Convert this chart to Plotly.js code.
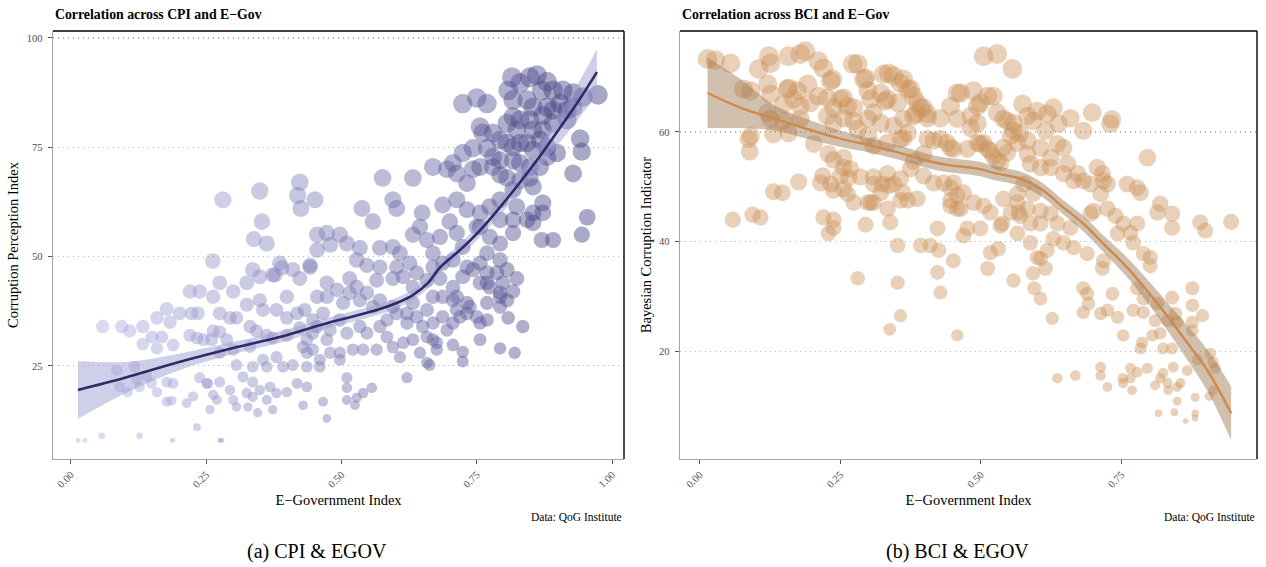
<!DOCTYPE html>
<html><head><meta charset="utf-8">
<script src="https://cdn.plot.ly/plotly-3.0.1.min.js"></script>
<style>html,body{margin:0;padding:0;background:#fff}#chart{width:1266px;height:567px}</style>
</head><body><div id="chart"></div>
<script>
// ---------- Panel (a): CPI vs E-Government ----------
const cpiEgov = [
.013,.026,.057,.127,.188,.275,.279,.233,.281,.349,
.353,.338,.362,.423,.419,.451,.425,.262,.085,.118,
.14,.122,.09,.105,.127,.149,.159,.177,.189,.186,
.177,.214,.226,.238,.251,.263,.257,.059,.094,.109,
.133,.133,.159,.15,.168,.189,.159,.177,.183,.201,
.22,.238,.223,.235,.233,.245,.22,.263,.275,.3,
.275,.294,.306,.263,.275,.26,.288,.275,.3,.306,
.325,.349,.336,.373,.39,.41,.423,.442,.325,.349,
.355,.38,.399,.418,.399,.331,.343,.362,.373,.399,
.423,.447,.436,.331,.355,.38,.336,.362,.392,.41,
.436,.46,.318,.336,.349,.368,.325,.336,.362,.38,
.399,.418,.436,.345,.373,.327,.306,.3,.27,.429,
.466,.473,.294,.275,.253,.538,.558,.576,.632,.595,
.602,.649,.669,.695,.713,.732,.743,.78,.793,.713,
.687,.7,.732,.756,.774,.793,.793,.645,.632,.658,
.669,.682,.713,.724,.756,.774,.793,.769,.793,.756,
.732,.706,.687,.669,.455,.473,.497,.479,.51,.534,
.571,.595,.608,.455,.528,.547,.571,.602,.626,.639,
.614,.595,.632,.658,.682,.706,.724,.743,.769,.787,
.756,.774,.798,.806,.793,.769,.732,.713,.713,.687,
.669,.658,.632,.621,.595,.571,.558,.534,.547,.515,
.503,.473,.455,.473,.492,.515,.565,.528,.442,.386,
.377,.432,.466,.455,.479,.497,.51,.534,.547,.571,
.584,.602,.621,.639,.65,.669,.687,.706,.719,.737,
.756,.669,.658,.632,.614,.595,.584,.565,.54,.521,
.497,.479,.447,.429,.473,.447,.608,.645,.676,.658,
.706,.724,.724,.756,.793,.793,.621,.51,.51,.497,
.46,.436,.528,.54,.556,.525,.51,.824,.817,.808,
.835,.82,.706,.769,.793,.806,.676,.695,.663,.769,
.75,.732,.724,.75,.769,.815,.808,.83,.848,.861,
.88,.87,.891,.909,.928,.946,.974,.817,.843,.854,
.88,.891,.872,.904,.917,.928,.817,.83,.848,.806,
.824,.854,.872,.891,.917,.756,.761,.78,.793,.806,
.817,.83,.843,.854,.867,.88,.898,.941,.944,.928,
.817,.83,.848,.867,.88,.793,.78,.769,.743,.724,
.756,.706,.806,.83,.848,.854,.817,.872,.854,.824,
.843,.817,.854,.872,.954,.944,.891,.817,.75,.87
];
const cpiScore = [
8,8,9,9,8,8,8,11,63,65,
58,54,53,67,64,63,61,49,24,24.8,
22.7,21.8,20.2,19,20.2,21,19,21.3,21,17,
16.8,16.5,18,22.3,21,18.4,15,34,34,33,
34,30,29,31.6,31.6,29.8,36,38,35,37,
42,42,37,37,31.4,31,32,40.8,44,42,
37,36,36,33,32.8,31,31,28,28.7,25.2,
44,45.4,47,45.8,47.4,47,45,48,39,40,
37.8,37.8,36,37,40.8,34,33,32,31.4,32,
33.7,35.5,31,29.4,26.4,27,24.8,24.8,24.8,25.2,
24.8,24.8,22.5,21.3,19.5,20.2,18.8,17.9,17.2,18.8,
19,21,20.2,14.3,15,15.6,15.6,17.2,17.2,16,
16.8,13,19.5,21.3,21,61,58,68,68,63,
61,60,70.5,70,69,66.8,70,70.5,68.7,63,
61.8,58,60.7,60,61.4,63,58.4,56.8,55,53.8,
50.8,54.5,55.4,52.2,56.8,54.5,53,50.8,49.2,48.5,
47.6,49.2,48.5,47.6,55,55.4,55,52.7,53,52,
52,52.2,50.8,51.5,49.2,48,47.6,47.6,48.5,46.3,
45.4,45,43,44.6,45,43,45.4,47,46.3,46.3,
44,43,44,47,40.8,39.4,39.4,40.8,37.8,40.8,
40.8,37.8,39.4,37,38.5,40,38.5,40,41.7,41.7,
39.4,40.8,40.8,44,42.4,45,44.6,43,47.6,48.5,
45.8,37.8,37,34,33.2,35.5,32.5,34,32.5,34,
35.5,37,34.8,36.2,34,34.8,36.2,34.8,36.2,38.5,
34.8,31,31.6,31,30.3,29.3,31.6,28.7,28.7,28.7,
28,28,28.7,29.3,31,32.5,27,28,28.7,25.7,
29.8,28.2,26,31,29,38.5,22.3,22.3,20,26.4,
26.4,28,17.7,18.8,20,16,17.2,45,42,36,
34,28,40,44,41.7,40,30.3,33.2,25.2,35.5,
36.2,37,85,86.3,85,91,88,89.7,91,91.5,
90,88,88,88,87.4,86.5,87,85.8,85.8,84.2,
84.2,83.5,82.3,85,83.5,84.2,82,81.3,81.3,80.5,
79,79,79,80.5,81.3,79.7,78.3,78.3,76.7,76,
75,76,76,74.4,76.7,75,73.7,77,74,69,
72,71.4,70.5,70.5,72.8,72,72.8,74.8,74.8,73.7,
70.5,71.4,68,67.5,68,66,65.3,62.3,60,61.4,
58.4,58.4,57.7,60,59,55,53.8,55.4,56.8,53.8
];
// smoothed fit
const cpiFitX  = [0.013,0.1,0.2,0.3,0.386,0.479,0.552,0.602,0.632,0.66,0.682,0.719,0.756,0.793,0.83,0.867,0.904,0.94,0.972];
const cpiFitY  = [19.5,22.3,25.9,29.1,31.6,35.0,37.3,39.4,41.2,44.0,47.5,51.5,56.0,61.3,67.0,73.0,79.5,86.0,92.2];
const cpiFitHi = [26.1,25.9,27.8,30.5,32.9,36.2,38.5,40.6,42.4,45.3,48.8,52.9,57.6,63.1,69.2,75.7,82.8,90.2,97.4];
const cpiFitLo = [12.9,18.7,24.0,27.7,30.3,33.8,36.1,38.2,40.0,42.7,46.2,50.1,54.4,59.5,64.8,70.3,76.2,81.8,87.0];

// ---------- Panel (b): BCI vs E-Government ----------
const bciEgov = [
.014,.028,.055,.078,.087,.089,.059,.094,.108,.131,
.147,.105,.123,.126,.121,.126,.158,.179,.188,.158,
.174,.192,.211,.22,.233,.176,.219,.233,.238,.22,
.238,.229,.238,.203,.229,.238,.256,.256,.265,.263,
.274,.295,.304,.309,.325,.336,.345,.37,.387,.334,
.339,.352,.393,.41,.423,.425,.451,.272,.281,.256,
.295,.327,.336,.362,.375,.304,.33,.352,.387,.398,
.384,.405,.428,.446,.458,.416,.428,.446,.398,.38,
.362,.398,.375,.434,.446,.458,.446,.091,.236,.156,
.167,.179,.197,.149,.121,.126,.149,.179,.091,.131,
.158,.211,.227,.238,.25,.263,.274,.256,.274,.227,
.238,.281,.299,.299,.309,.292,.299,.322,.345,.357,
.37,.334,.38,.393,.38,.405,.362,.322,.345,.37,
.357,.334,.309,.405,.44,.451,.476,.494,.505,.512,
.522,.535,.547,.565,.57,.558,.54,.553,.494,.512,
.529,.482,.494,.464,.487,.522,.505,.529,.556,.574,
.583,.334,.357,.362,.322,.309,.299,.256,.215,.25,
.268,.286,.309,.357,.416,.451,.458,.469,.446,.464,
.487,.505,.517,.54,.553,.565,.57,.583,.535,.565,
.517,.531,.512,.558,.476,.469,.499,.423,.428,.281,
.352,.357,.499,.458,.482,.547,.558,.6,.618,.629,
.593,.615,.638,.659,.682,.698,.73,.733,.796,.499,
.517,.54,.583,.583,.529,.606,.636,.647,.624,.654,
.588,.606,.624,.647,.672,.665,.682,.707,.716,.718,
.713,.695,.725,.76,.778,.784,.819,.814,.84,.84,
.89,.899,.945,.565,.576,.593,.567,.538,.588,.606,
.624,.606,.636,.659,.629,.647,.665,.689,.618,.606,
.588,.695,.7,.725,.739,.753,.778,.766,.743,.771,
.789,.801,.718,.458,.6,.615,.593,.595,.606,.627,
.716,.682,.689,.691,.682,.713,.725,.734,.743,.753,
.771,.789,.801,.778,.789,.814,.81,.805,.819,.787,
.784,.824,.84,.84,.846,.832,.849,.876,.876,.894,
.876,.876,.908,.913,.917,.867,.885,.842,.824,.819,
.832,.855,.849,.833,.81,.796,.778,.766,.766,.752,
.753,.769,.725,.713,.713,.668,.636,.881,.881,.881,
.864,.844,.816,.849,.906,.913,.338
];
const bciScore = [
73.3,73.1,72.5,67.8,58.7,56.4,44,44.9,44.4,49.1,
48.9,71.5,73.8,72.5,68.7,66.9,73.8,74.2,74.7,68,
67.5,68.7,72.9,71.6,69.3,50.9,52,50.5,49.3,44.4,
44,41.5,42.5,57.8,56,54.9,53.5,55.3,51.6,48.7,
47.1,43.1,47.1,50.5,50.5,50.2,50.5,47.5,47.8,46,
43.5,39.3,39.3,39.3,42.4,38.4,36.5,72.4,72.4,66.2,
69.8,70.5,70.7,69.6,67.8,66,65.6,65.3,65.3,64.4,
63.3,62.5,62.5,64.7,67.1,58.4,58.7,57.1,56,54.7,
58.9,52,53.3,50.7,49.8,46,47.5,67.5,69.6,67.8,
66,64.7,65.3,65.1,63.5,62.4,62,62.4,59.3,59.6,
59.8,66.5,66.2,64.4,66,64.7,64.4,62.5,62,62.9,
61.6,60.5,59.3,62.4,63.5,69.6,67.5,67.1,70.2,68.9,
67.8,66,66.5,64.4,62.9,63.3,62.4,61.6,61.1,59.8,
58.7,58,57.5,58.7,58,56.9,56.9,58,58,56.9,
55.6,54.4,56.2,58,59.8,61.6,62.4,59.3,64.7,66.5,
63.5,62.9,61.6,67.1,67.5,66.5,73.8,74.2,71.5,65.1,
62.9,52.4,51.5,48.9,48.9,47.1,47.1,49.6,50.7,52,
53.3,51.8,51.8,47.5,50.7,50.7,48.4,48.9,46.5,46,
47.1,46.5,45.3,47.8,45.3,47.1,44.7,46,42.9,41.5,
38,38.7,35.1,32.9,42.4,41.1,42.4,34.4,30.7,33.3,
32.5,26.5,65.3,62.4,60.7,62,60.2,63.8,63.3,64.4,
62,60.2,61.5,62.5,60.2,63.5,61.5,62.3,55.3,57.8,
56.5,57.1,58.4,56,54.7,57.1,57.8,57.1,55.3,54.2,
54.2,53.5,53.5,52.4,52.4,51.1,51.1,53.5,52.4,51.1,
48.7,50.5,50.5,50.5,49.8,48.9,46.9,45.3,45.1,42.5,
43.5,42,43.6,48.7,50.5,48.7,45.3,43.3,43.3,45.6,
45.1,43.3,43.3,42.5,40.5,39.8,38.9,37.8,38.4,36.9,
39.8,45.1,45.6,46,44.7,43.3,43.3,41.6,41.5,39.8,
37.8,37.1,36.5,22.9,37.1,35.1,34.2,31.5,29.6,26,
35.1,31.5,30.5,28.7,27.1,26.9,27.5,30.5,26.2,22.9,
27.5,27.1,35.6,31.5,29.6,28.7,25.6,22.9,23.3,21.6,
20.5,20.5,20.5,29.8,26.9,25.6,25.3,31.5,28.4,26.5,
25.3,23.8,19.6,18,16.9,16.5,18.4,17.1,16,15.1,
14.2,14.2,13.5,12.9,13.8,16.9,16.2,16.9,15.1,15.1,
14.2,12.9,13.5,17.1,15.6,15.6,15.1,11.6,8.7,7.8,
7.3,8.9,8.7,10.9,11.8,12.9,24
];
const bciFitX  = [0.014,0.073,0.131,0.192,0.245,0.304,0.362,0.41,0.446,0.494,0.529,0.566,0.588,0.611,0.647,0.682,0.718,0.76,0.814,0.86,0.903,0.945];
const bciFitY  = [67.1,64.4,62.5,60.5,58.9,57.5,56.0,54.6,53.9,53.3,52.4,51.6,50.7,49.3,46.2,43.3,39.6,35.3,28.7,22.5,16.5,8.7];
const bciFitHi = [73.5,69.6,65.0,62.3,60.4,58.8,57.3,55.9,55.2,54.6,53.7,52.9,52.0,50.6,47.5,44.7,41.1,37.1,31.0,25.5,20.3,13.6];
const bciFitLo = [60.7,60.7,60.3,58.7,57.4,56.2,54.7,53.3,52.6,52.0,51.1,50.3,49.4,48.0,44.9,41.9,38.1,33.5,26.4,19.5,12.7,3.8];

// ---------- tick labels and texts ----------
const cpiXTicks = [0, 0.25, 0.5, 0.75, 1];
const cpiXLabels = ['0.00','0.25','0.50','0.75','1.00'];
const cpiYTicks = [25, 50, 75, 100];
const bciXTicks = [0, 0.25, 0.5, 0.75];
const bciXLabels = ['0.00','0.25','0.50','0.75'];
const bciYTicks = [20, 40, 60];

// ggplot-like area size scale
function sizeScale(vals, dmin, dmax) {
  const lo = Math.min(...vals), hi = Math.max(...vals);
  return vals.map(v => dmin + (dmax - dmin) * Math.sqrt((v - lo) / (hi - lo)));
}

const FONT = 'Liberation Serif, Times New Roman, serif';

const traces = [
  { type:'scatter', mode:'markers', x:cpiEgov, y:cpiScore, xaxis:'x', yaxis:'y', hoverinfo:'skip',
    marker:{ size:sizeScale(cpiScore, 5, 20), color:cpiEgov, cmin:0, cmax:1,
      colorscale:[[0,'rgb(182,182,232)'],[1,'rgb(58,54,122)']], opacity:0.45, line:{width:0} } },
  { type:'scatter', mode:'lines', x:cpiFitX, y:cpiFitLo, xaxis:'x', yaxis:'y', line:{width:0, shape:'spline'}, hoverinfo:'skip' },
  { type:'scatter', mode:'lines', x:cpiFitX, y:cpiFitHi, xaxis:'x', yaxis:'y', line:{width:0, shape:'spline'}, fill:'tonexty', fillcolor:'rgba(160,160,212,0.5)', hoverinfo:'skip' },
  { type:'scatter', mode:'lines', x:cpiFitX, y:cpiFitY, xaxis:'x', yaxis:'y', line:{color:'rgb(45,43,100)', width:2.6, shape:'spline'}, hoverinfo:'skip' },

  { type:'scatter', mode:'markers', x:bciEgov, y:bciScore, xaxis:'x2', yaxis:'y2', hoverinfo:'skip',
    marker:{ size:sizeScale(bciScore, 5.5, 20), color:'rgb(203,145,88)', opacity:0.42, line:{width:0} } },
  { type:'scatter', mode:'lines', x:bciFitX, y:bciFitLo, xaxis:'x2', yaxis:'y2', line:{width:0, shape:'spline'}, hoverinfo:'skip' },
  { type:'scatter', mode:'lines', x:bciFitX, y:bciFitHi, xaxis:'x2', yaxis:'y2', line:{width:0, shape:'spline'}, fill:'tonexty', fillcolor:'rgba(155,115,78,0.45)', hoverinfo:'skip' },
  { type:'scatter', mode:'lines', x:bciFitX, y:bciFitY, xaxis:'x2', yaxis:'y2', line:{color:'rgb(205,138,78)', width:2.4, shape:'spline'}, hoverinfo:'skip' }
];

const axisLine = '#a6a6a6';
const tickFont = { family:FONT, size:10.5, color:'#4d4d4d' };
const titleFont = { family:FONT, size:14.5, color:'#000' };

function xAxis(domain, range, ticks, labels, anchor) {
  return { domain, range, anchor, tickmode:'array', tickvals:ticks, ticktext:labels, tickangle:-45,
    ticks:'outside', ticklen:4, tickwidth:1, tickcolor:'#555', tickfont:tickFont,
    showline:true, linecolor:axisLine, linewidth:1.4, showgrid:false, zeroline:false,
    title:{ text:'E−Government Index', font:titleFont, standoff:6 }, fixedrange:true };
}
function yAxis(domain, range, ticks, title, anchor) {
  return { domain, range, anchor, tickmode:'array', tickvals:ticks, ticktext:ticks.map(String),
    ticks:'outside', ticklen:4, tickwidth:1, tickcolor:'#555', tickfont:tickFont, ticklabelstandoff:3,
    showline:true, linecolor:axisLine, linewidth:1.4, showgrid:true, gridcolor:'#b4b4b4', griddash:'1px,4px', gridwidth:1.2,
    zeroline:false, title:{ text:title, font:titleFont, standoff:4 }, fixedrange:true };
}

const yDom = [108/567, 536/567];
const layout = {
  width:1266, height:567, margin:{l:0, r:0, t:0, b:0},
  paper_bgcolor:'#fff', plot_bgcolor:'#fff', showlegend:false,
  font:{ family:FONT, color:'#000' },
  xaxis: xAxis([53/1266, 624/1266], [-0.033, 1.022], cpiXTicks, cpiXLabels, 'y'),
  yaxis: yAxis(yDom, [3.7, 101.6], cpiYTicks, 'Corruption Perception Index', 'x'),
  xaxis2: xAxis([680/1266, 1257/1266], [-0.035, 0.991], bciXTicks, bciXLabels, 'y2'),
  yaxis2: yAxis(yDom, [0.36, 78.4], bciYTicks, 'Bayesian Corruption Indicator', 'x2'),
  shapes: [
    {type:'line', xref:'x domain', yref:'y domain', x0:0, x1:1, y0:1, y1:1, line:{color:'#000', width:1.4}},
    {type:'line', xref:'x domain', yref:'y domain', x0:1, x1:1, y0:0, y1:1, line:{color:'#000', width:1.4}},
    {type:'line', xref:'x2 domain', yref:'y2 domain', x0:0, x1:1, y0:1, y1:1, line:{color:'#000', width:1.4}},
    {type:'line', xref:'x2 domain', yref:'y2 domain', x0:1, x1:1, y0:0, y1:1, line:{color:'#000', width:1.4}}
  ],
  annotations: [
    {text:'<b>Correlation across CPI and E−Gov</b>', xref:'x domain', yref:'paper', x:0, y:1-14/567, xanchor:'left', yanchor:'middle', showarrow:false, font:{family:FONT, size:13.8, color:'#000'}},
    {text:'<b>Correlation across BCI and E−Gov</b>', xref:'x2 domain', yref:'paper', x:0, y:1-14/567, xanchor:'left', yanchor:'middle', showarrow:false, font:{family:FONT, size:13.8, color:'#000'}},
    {text:'Data: QoG Institute', xref:'x domain', yref:'paper', x:1, y:1-517/567, xanchor:'right', yanchor:'middle', showarrow:false, font:{family:FONT, size:11.5, color:'#000'}},
    {text:'Data: QoG Institute', xref:'x2 domain', yref:'paper', x:1, y:1-517/567, xanchor:'right', yanchor:'middle', showarrow:false, font:{family:FONT, size:11.5, color:'#000'}},
    {text:'(a) CPI & EGOV', xref:'paper', yref:'paper', x:317/1266, y:1-551/567, xanchor:'center', yanchor:'middle', showarrow:false, font:{family:FONT, size:20, color:'#000'}},
    {text:'(b) BCI & EGOV', xref:'paper', yref:'paper', x:957/1266, y:1-551/567, xanchor:'center', yanchor:'middle', showarrow:false, font:{family:FONT, size:20, color:'#000'}}
  ]
};

Plotly.newPlot('chart', traces, layout, {displayModeBar:false, staticPlot:true});
</script>
</body></html>
